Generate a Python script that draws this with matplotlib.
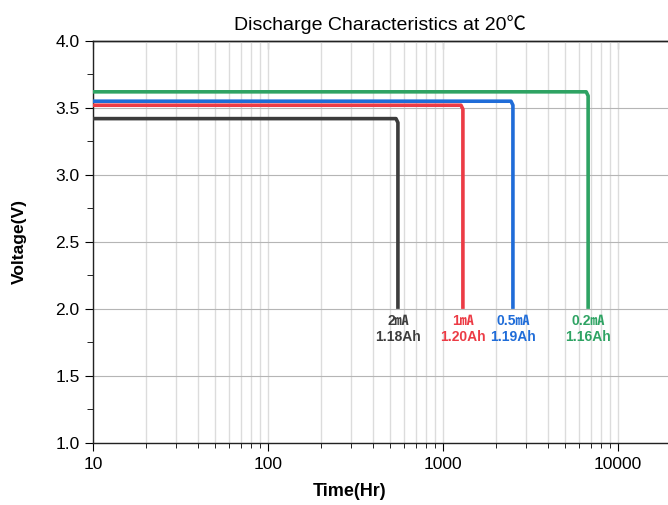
import numpy as np
import matplotlib
matplotlib.use('Agg')
import matplotlib.pyplot as plt
from matplotlib.ticker import FixedLocator, NullFormatter

plt.rcParams['font.family'] = ['Liberation Sans', 'Noto Sans CJK JP', 'DejaVu Sans']

# ---- data ----
currents = ['2㎃', '1㎃', '0.5㎃', '0.2㎃']
capacities = ['1.18Ah', '1.20Ah', '1.19Ah', '1.16Ah']
plateau_v = [3.42, 3.52, 3.55, 3.62]
end_hours = [553, 1300, 2510, 6750]
cutoff_v = 2.0
start_hour = 10
colors = ['#3c3c3c', '#ec3b45', '#1f6cd8', '#2ea363']

fig = plt.figure(figsize=(6.68, 5.05), dpi=100)
ax = fig.add_axes([0.139, 0.123, 0.861, 0.796])

for v, t, c in zip(plateau_v, end_hours, colors):
    x = [start_hour, t * 0.975, t, t]
    y = [v, v, v - 0.03, cutoff_v]
    ax.plot(x, y, color=c, lw=2.6, solid_joinstyle='round', solid_capstyle='butt', zorder=3)

for cur, cap, t, c in zip(currents, capacities, end_hours, colors):
    ax.text(t, 1.91, cur, color=c, ha='center', va='center', fontsize=10, fontweight='bold')
    ax.text(t, 1.79, cap, color=c, ha='center', va='center', fontsize=10, fontweight='bold')

ax.set_xscale('log')
ax.set_xlim(10, 19300)
ax.set_ylim(1.0, 4.0)

majors = [10, 100, 1000, 10000]
minors = [m * d for d in [10, 100, 1000] for m in range(2, 10)]
ax.xaxis.set_major_locator(FixedLocator(majors))
ax.xaxis.set_minor_locator(FixedLocator(minors))
ax.xaxis.set_minor_formatter(NullFormatter())
ax.set_xticklabels(['10', '100', '1000', '10000'])
ax.set_yticks(np.arange(1.0, 4.01, 0.5))
ax.set_yticks(np.arange(1.25, 4.0, 0.5), minor=True)

ax.grid(True, axis='x', which='both', color='#dcdcdc', lw=1.0, zorder=0)
ax.grid(True, axis='y', which='major', color='#b5b5b5', lw=0.8, zorder=0)

ax.spines['right'].set_visible(False)
for s in ['left', 'top', 'bottom']:
    ax.spines[s].set_linewidth(1.0)
    ax.spines[s].set_color('#222222')

# bottom ticks point out (down)
ax.tick_params(axis='x', which='both', top=False, bottom=True, direction='out', labelsize=12.5, pad=4)
ax.tick_params(axis='x', which='major', length=6)
ax.tick_params(axis='x', which='minor', length=3.5)
ax.tick_params(axis='y', which='both', direction='out', labelsize=12.5)
ax.tick_params(axis='y', which='major', length=6)
ax.tick_params(axis='y', which='minor', length=4)

# top ticks point in (also down)
top = ax.secondary_xaxis('top')
top.xaxis.set_major_locator(FixedLocator(majors))
top.xaxis.set_minor_locator(FixedLocator(minors))
top.xaxis.set_major_formatter(NullFormatter())
top.xaxis.set_minor_formatter(NullFormatter())
top.tick_params(axis='x', which='both', direction='in')
top.tick_params(axis='x', which='major', length=6)
top.tick_params(axis='x', which='minor', length=3.5)
top.spines['top'].set_linewidth(1.0)
top.spines['top'].set_color('#222222')

ax.set_title('Discharge Characteristics at 20℃', fontsize=14, pad=8)
ax.set_xlabel('Time(Hr)', fontsize=13, fontweight='bold')
ax.xaxis.set_label_coords(0.447, -0.1)
ax.set_ylabel('Voltage(V)', fontsize=12.5, fontweight='bold')
ax.yaxis.set_label_coords(-0.115, 0.5)

fig.savefig('out.png', dpi=100)
